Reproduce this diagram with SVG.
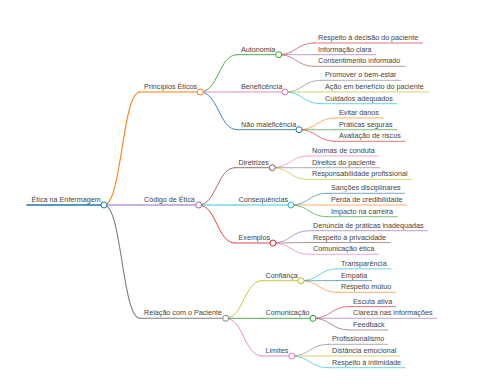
<svg xmlns="http://www.w3.org/2000/svg" width="480" height="384" viewBox="0 0 480 384">
<style>
text{font-family:"Liberation Sans",Arial,sans-serif;font-size:7.2px;fill:#444}
path,line{fill:none;stroke-linecap:round}
circle{fill:#fff;stroke-width:1}
.d0{stroke-width:1.6}.d1{stroke-width:1.1}.d2{stroke-width:0.95;stroke-opacity:0.9}.d3{stroke-width:0.8;stroke-opacity:0.8}
.k0{stroke:#1f77b4}.k1{stroke:#ff7f0e}.k2{stroke:#2ca02c}.k3{stroke:#d62728}.k4{stroke:#9467bd}
.k5{stroke:#8c564b}.k6{stroke:#e377c2}.k7{stroke:#7f7f7f}.k8{stroke:#bcbd22}.k9{stroke:#17becf}
</style>
<rect width="480" height="384" fill="#fff"/>
<g id="connectors">
<path class="d1 k1" d="M104,205 C122,205 122,92 140,92"/>
<path class="d1 k4" d="M104,205 C122,205 122,205 140,205"/>
<path class="d1 k7" d="M104,205 C122,205 122,318.3 140,318.3"/>
<path class="d2 k2" d="M200.3,92 C218.7,92 218.7,54.7 237,54.7"/>
<path class="d2 k6" d="M200.3,92 C218.7,92 218.7,92 237,92"/>
<path class="d2 k0" d="M200.3,92 C218.7,92 218.7,129.7 237,129.7"/>
<path class="d3 k3" d="M278.7,54.7 C296.4,54.7 296.4,43 314,43"/>
<path class="d3 k4" d="M278.7,54.7 C296.4,54.7 296.4,54.7 314,54.7"/>
<path class="d3 k5" d="M278.7,54.7 C296.4,54.7 296.4,66.3 314,66.3"/>
<path class="d3 k7" d="M285,92 C303,92 303,80.3 321,80.3"/>
<path class="d3 k8" d="M285,92 C303,92 303,92 321,92"/>
<path class="d3 k9" d="M285,92 C303,92 303,103.7 321,103.7"/>
<path class="d3 k1" d="M299,129.7 C317,129.7 317,118 335,118"/>
<path class="d3 k2" d="M299,129.7 C317,129.7 317,129.7 335,129.7"/>
<path class="d3 k3" d="M299,129.7 C317,129.7 317,141.3 335,141.3"/>
<path class="d2 k5" d="M198.7,205 C216.9,205 216.9,167.7 235,167.7"/>
<path class="d2 k9" d="M198.7,205 C216.9,205 216.9,205 235,205"/>
<path class="d2 k3" d="M198.7,205 C216.9,205 216.9,243 235,243"/>
<path class="d3 k6" d="M272.3,167.7 C290.2,167.7 290.2,156 308,156"/>
<path class="d3 k7" d="M272.3,167.7 C290.2,167.7 290.2,167.7 308,167.7"/>
<path class="d3 k8" d="M272.3,167.7 C290.2,167.7 290.2,179.4 308,179.4"/>
<path class="d3 k0" d="M291,205 C309,205 309,193.3 327,193.3"/>
<path class="d3 k1" d="M291,205 C309,205 309,205 327,205"/>
<path class="d3 k2" d="M291,205 C309,205 309,216.7 327,216.7"/>
<path class="d3 k4" d="M273,243 C291,243 291,230.7 309,230.7"/>
<path class="d3 k5" d="M273,243 C291,243 291,242.5 309,242.5"/>
<path class="d3 k6" d="M273,243 C291,243 291,254.3 309,254.3"/>
<path class="d2 k8" d="M225.7,318.3 C243.9,318.3 243.9,280.7 262,280.7"/>
<path class="d2 k2" d="M225.7,318.3 C243.9,318.3 243.9,318.3 262,318.3"/>
<path class="d2 k6" d="M225.7,318.3 C243.9,318.3 243.9,356 262,356"/>
<path class="d3 k9" d="M301,280.7 C319,280.7 319,268.9 337,268.9"/>
<path class="d3 k0" d="M301,280.7 C319,280.7 319,280.6 337,280.6"/>
<path class="d3 k1" d="M301,280.7 C319,280.7 319,292.3 337,292.3"/>
<path class="d3 k3" d="M313,318.3 C331,318.3 331,306.6 349,306.6"/>
<path class="d3 k4" d="M313,318.3 C331,318.3 331,318.3 349,318.3"/>
<path class="d3 k5" d="M313,318.3 C331,318.3 331,330 349,330"/>
<path class="d3 k7" d="M291.7,356 C309.9,356 309.9,344.3 328,344.3"/>
<path class="d3 k8" d="M291.7,356 C309.9,356 309.9,356 328,356"/>
<path class="d3 k9" d="M291.7,356 C309.9,356 309.9,367.7 328,367.7"/>
</g>
<g id="n-root"><line class="d0 k0" x1="27" y1="205" x2="104" y2="205"/><text x="31.5" y="202">Ética na Enfermagem</text><circle class="k0" cx="104" cy="205" r="3"/></g>
<g id="n-principios"><line class="d1 k1" x1="140" y1="92" x2="200.3" y2="92"/><text x="144" y="89">Princípios Éticos</text><circle class="k1" cx="200.3" cy="92" r="3"/></g>
<g id="n-autonomia"><line class="d2 k2" x1="237" y1="54.7" x2="278.7" y2="54.7"/><text x="241" y="51.7">Autonomia</text><circle class="k2" cx="278.7" cy="54.7" r="3"/></g>
<g id="n-a1"><line class="d3 k3" x1="314" y1="43" x2="422.5" y2="43"/><text x="318" y="40">Respeito à decisão do paciente</text></g>
<g id="n-a2"><line class="d3 k4" x1="314" y1="54.7" x2="376" y2="54.7"/><text x="318" y="51.7">Informação clara</text></g>
<g id="n-a3"><line class="d3 k5" x1="314" y1="66.3" x2="405" y2="66.3"/><text x="318" y="63.3">Consentimento informado</text></g>
<g id="n-beneficencia"><line class="d2 k6" x1="237" y1="92" x2="285" y2="92"/><text x="241" y="89">Beneficência</text><circle class="k6" cx="285" cy="92" r="3"/></g>
<g id="n-b1"><line class="d3 k7" x1="321" y1="80.3" x2="401" y2="80.3"/><text x="325" y="77.3">Promover o bem-estar</text></g>
<g id="n-b2"><line class="d3 k8" x1="321" y1="92" x2="429" y2="92"/><text x="325" y="89">Ação em benefício do paciente</text></g>
<g id="n-b3"><line class="d3 k9" x1="321" y1="103.7" x2="397" y2="103.7"/><text x="325" y="100.7">Cuidados adequados</text></g>
<g id="n-naomal"><line class="d2 k0" x1="237" y1="129.7" x2="299" y2="129.7"/><text x="241" y="126.7">Não maleficência</text><circle class="k0" cx="299" cy="129.7" r="3"/></g>
<g id="n-m1"><line class="d3 k1" x1="335" y1="118" x2="384" y2="118"/><text x="339" y="115">Evitar danos</text></g>
<g id="n-m2"><line class="d3 k2" x1="335" y1="129.7" x2="397" y2="129.7"/><text x="339" y="126.7">Práticas seguras</text></g>
<g id="n-m3"><line class="d3 k3" x1="335" y1="141.3" x2="405" y2="141.3"/><text x="339" y="138.3">Avaliação de riscos</text></g>
<g id="n-codigo"><line class="d1 k4" x1="140" y1="205" x2="198.7" y2="205"/><text x="144" y="202">Código de Ética</text><circle class="k4" cx="198.7" cy="205" r="3"/></g>
<g id="n-diretrizes"><line class="d2 k5" x1="235" y1="167.7" x2="272.3" y2="167.7"/><text x="238.5" y="164.7">Diretrizes</text><circle class="k5" cx="272.3" cy="167.7" r="3"/></g>
<g id="n-d1"><line class="d3 k6" x1="308" y1="156" x2="379" y2="156"/><text x="312" y="153">Normas de conduta</text></g>
<g id="n-d2"><line class="d3 k7" x1="308" y1="167.7" x2="380" y2="167.7"/><text x="312" y="164.7">Direitos do paciente</text></g>
<g id="n-d3"><line class="d3 k8" x1="308" y1="179.4" x2="411.7" y2="179.4"/><text x="312" y="176.4">Responsabilidade profissional</text></g>
<g id="n-consequencias"><line class="d2 k9" x1="235" y1="205" x2="291" y2="205"/><text x="238.5" y="202">Consequências</text><circle class="k9" cx="291" cy="205" r="3"/></g>
<g id="n-c1"><line class="d3 k0" x1="327" y1="193.3" x2="404.7" y2="193.3"/><text x="331" y="190.3">Sanções disciplinares</text></g>
<g id="n-c2"><line class="d3 k1" x1="327" y1="205" x2="406.7" y2="205"/><text x="331" y="202">Perda de credibilidade</text></g>
<g id="n-c3"><line class="d3 k2" x1="327" y1="216.7" x2="397.3" y2="216.7"/><text x="331" y="213.7">Impacto na carreira</text></g>
<g id="n-exemplos"><line class="d2 k3" x1="235" y1="243" x2="273" y2="243"/><text x="238.5" y="240">Exemplos</text><circle class="k3" cx="273" cy="243" r="3"/></g>
<g id="n-e1"><line class="d3 k4" x1="309" y1="230.7" x2="427.3" y2="230.7"/><text x="313" y="227.7">Denúncia de práticas inadequadas</text></g>
<g id="n-e2"><line class="d3 k5" x1="309" y1="242.5" x2="390" y2="242.5"/><text x="313" y="239.5">Respeito à privacidade</text></g>
<g id="n-e3"><line class="d3 k6" x1="309" y1="254.3" x2="378.7" y2="254.3"/><text x="313" y="251.3">Comunicação ética</text></g>
<g id="n-relacao"><line class="d1 k7" x1="140" y1="318.3" x2="225.7" y2="318.3"/><text x="144" y="315.3">Relação com o Paciente</text><circle class="k7" cx="225.7" cy="318.3" r="3"/></g>
<g id="n-confianca"><line class="d2 k8" x1="262" y1="280.7" x2="301" y2="280.7"/><text x="265.5" y="277.7">Confiança</text><circle class="k8" cx="301" cy="280.7" r="3"/></g>
<g id="n-f1"><line class="d3 k9" x1="337" y1="268.9" x2="391" y2="268.9"/><text x="341" y="265.9">Transparência</text></g>
<g id="n-f2"><line class="d3 k0" x1="337" y1="280.6" x2="371.7" y2="280.6"/><text x="341" y="277.6">Empatia</text></g>
<g id="n-f3"><line class="d3 k1" x1="337" y1="292.3" x2="395.7" y2="292.3"/><text x="341" y="289.3">Respeito mútuo</text></g>
<g id="n-comunicacao"><line class="d2 k2" x1="262" y1="318.3" x2="313" y2="318.3"/><text x="265.5" y="315.3">Comunicação</text><circle class="k2" cx="313" cy="318.3" r="3"/></g>
<g id="n-o1"><line class="d3 k3" x1="349" y1="306.6" x2="395.7" y2="306.6"/><text x="353" y="303.6">Escuta ativa</text></g>
<g id="n-o2"><line class="d3 k4" x1="349" y1="318.3" x2="436.7" y2="318.3"/><text x="353" y="315.3">Clareza nas informações</text></g>
<g id="n-o3"><line class="d3 k5" x1="349" y1="330" x2="388" y2="330"/><text x="353" y="327">Feedback</text></g>
<g id="n-limites"><line class="d2 k6" x1="262" y1="356" x2="291.7" y2="356"/><text x="265.5" y="353">Limites</text><circle class="k6" cx="291.7" cy="356" r="3"/></g>
<g id="n-l1"><line class="d3 k7" x1="328" y1="344.3" x2="387.7" y2="344.3"/><text x="332" y="341.3">Profissionalismo</text></g>
<g id="n-l2"><line class="d3 k8" x1="328" y1="356" x2="400" y2="356"/><text x="332" y="353">Distância emocional</text></g>
<g id="n-l3"><line class="d3 k9" x1="328" y1="367.7" x2="405" y2="367.7"/><text x="332" y="364.7">Respeito à intimidade</text></g>
</svg>
